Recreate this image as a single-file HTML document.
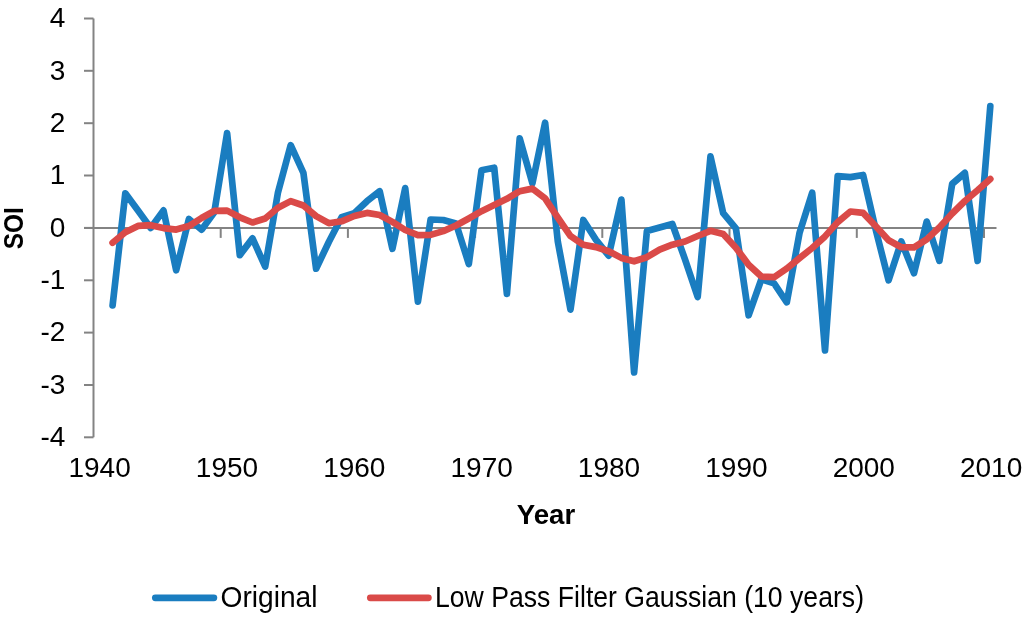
<!DOCTYPE html>
<html><head><meta charset="utf-8"><style>
html,body{margin:0;padding:0;background:#fff;}
body{width:1024px;height:622px;overflow:hidden;}
svg{display:block;will-change:transform;}
text{font-family:"Liberation Sans",sans-serif;fill:#000;}
</style></head><body>
<svg width="1024" height="622" viewBox="0 0 1024 622">
<rect width="1024" height="622" fill="#fff"/>
<g stroke="#838383" stroke-width="2" fill="none">
<line x1="93.5" y1="18.5" x2="93.5" y2="437.3"/>
<line x1="84" y1="18.5" x2="93.5" y2="18.5"/><line x1="84" y1="70.8" x2="93.5" y2="70.8"/><line x1="84" y1="123.2" x2="93.5" y2="123.2"/><line x1="84" y1="175.5" x2="93.5" y2="175.5"/><line x1="84" y1="227.9" x2="93.5" y2="227.9"/><line x1="84" y1="280.3" x2="93.5" y2="280.3"/><line x1="84" y1="332.6" x2="93.5" y2="332.6"/><line x1="84" y1="385.0" x2="93.5" y2="385.0"/><line x1="84" y1="437.3" x2="93.5" y2="437.3"/>
<line x1="84" y1="227.9" x2="996.5" y2="227.9"/>
<line x1="220.7" y1="227.9" x2="220.7" y2="237.9"/><line x1="347.9" y1="227.9" x2="347.9" y2="237.9"/><line x1="475.1" y1="227.9" x2="475.1" y2="237.9"/><line x1="602.3" y1="227.9" x2="602.3" y2="237.9"/><line x1="729.5" y1="227.9" x2="729.5" y2="237.9"/><line x1="856.8" y1="227.9" x2="856.8" y2="237.9"/><line x1="984.0" y1="227.9" x2="984.0" y2="237.9"/>
</g>
<polyline points="112.6,305.4 125.3,193.3 138.0,210.6 150.7,227.9 163.5,210.4 176.2,270.3 188.9,219.0 201.6,229.7 214.3,212.2 227.1,133.1 239.8,255.1 252.5,238.4 265.2,266.6 278.0,192.3 290.7,145.2 303.4,172.9 316.1,268.7 328.8,242.0 341.6,217.2 354.3,213.2 367.0,201.2 379.7,191.2 392.4,248.8 405.2,188.1 417.9,301.7 430.6,219.5 443.3,220.0 456.0,223.4 468.8,264.0 481.5,170.3 494.2,167.7 506.9,293.9 519.7,138.4 532.4,183.4 545.1,122.7 557.8,241.5 570.5,309.6 583.3,220.0 596.0,239.9 608.7,255.7 621.4,199.6 634.1,372.4 646.9,231.0 659.6,227.6 672.3,224.0 685.0,259.3 697.7,297.0 710.5,156.4 723.2,213.2 735.9,228.4 748.6,315.3 761.4,279.2 774.1,283.4 786.8,302.3 799.5,233.1 812.2,192.8 825.0,350.4 837.7,176.1 850.4,177.1 863.1,175.0 875.8,230.0 888.6,280.3 901.3,241.5 914.0,273.2 926.7,221.6 939.4,260.9 952.2,183.9 964.9,172.9 977.6,260.9 990.3,106.2" fill="none" stroke="#1a7dc0" stroke-width="6.7" stroke-linejoin="round" stroke-linecap="round"/>
<polyline points="112.6,242.8 125.3,232.2 138.0,225.9 150.7,225.2 163.5,228.1 176.2,229.6 188.9,226.1 201.6,218.0 214.3,210.8 227.1,210.6 239.8,217.3 252.5,222.5 265.2,218.5 278.0,207.7 290.7,201.1 303.4,205.5 316.1,216.1 328.8,223.2 341.6,221.3 354.3,216.0 367.0,212.9 379.7,215.0 392.4,221.9 405.2,230.0 417.9,235.1 430.6,234.9 443.3,231.1 456.0,225.5 468.8,218.5 481.5,211.2 494.2,205.1 506.9,198.8 519.7,191.2 532.4,188.6 545.1,198.3 557.8,217.6 570.5,236.1 583.3,244.8 596.0,247.1 608.7,251.3 621.4,257.9 634.1,261.3 646.9,257.2 659.6,249.7 672.3,244.7 685.0,241.5 697.7,236.0 710.5,230.8 723.2,233.9 735.9,247.7 748.6,264.7 761.4,276.5 774.1,277.2 786.8,268.6 799.5,258.1 812.2,248.0 825.0,236.4 837.7,222.1 850.4,211.5 863.1,212.9 875.8,226.3 888.6,240.3 901.3,247.2 914.0,247.3 926.7,239.4 939.4,227.4 952.2,213.5 964.9,201.0 977.6,190.3 990.3,179.0" fill="none" stroke="#da4a48" stroke-width="6.7" stroke-linejoin="round" stroke-linecap="round"/>
<g font-size="28">
<text x="65.4" y="27.2" text-anchor="end">4</text><text x="65.4" y="79.5" text-anchor="end">3</text><text x="65.4" y="131.9" text-anchor="end">2</text><text x="65.4" y="184.2" text-anchor="end">1</text><text x="65.4" y="236.6" text-anchor="end">0</text><text x="65.4" y="289.0" text-anchor="end">-1</text><text x="65.4" y="341.3" text-anchor="end">-2</text><text x="65.4" y="393.7" text-anchor="end">-3</text><text x="65.4" y="446.0" text-anchor="end">-4</text>
<text x="99.6" y="477.3" text-anchor="middle">1940</text><text x="227.0" y="477.3" text-anchor="middle">1950</text><text x="354.3" y="477.3" text-anchor="middle">1960</text><text x="481.7" y="477.3" text-anchor="middle">1970</text><text x="609.0" y="477.3" text-anchor="middle">1980</text><text x="736.4" y="477.3" text-anchor="middle">1990</text><text x="863.8" y="477.3" text-anchor="middle">2000</text><text x="991.1" y="477.3" text-anchor="middle">2010</text>
</g>
<text x="546" y="524.1" font-size="27.6" font-weight="bold" text-anchor="middle">Year</text>
<text transform="translate(23,228.2) rotate(-90)" font-size="27" font-weight="bold" text-anchor="middle" textLength="42" lengthAdjust="spacingAndGlyphs">SOI</text>
<line x1="155.3" y1="597.8" x2="213.9" y2="597.8" stroke="#1a7dc0" stroke-width="6.7" stroke-linecap="round"/>
<text x="220.5" y="606.7" font-size="28.6" textLength="97" lengthAdjust="spacingAndGlyphs">Original</text>
<line x1="370.3" y1="597.8" x2="428.4" y2="597.8" stroke="#da4a48" stroke-width="6.7" stroke-linecap="round"/>
<text x="435" y="606.7" font-size="28.6" textLength="429" lengthAdjust="spacingAndGlyphs">Low Pass Filter Gaussian (10 years)</text>
</svg>
</body></html>
